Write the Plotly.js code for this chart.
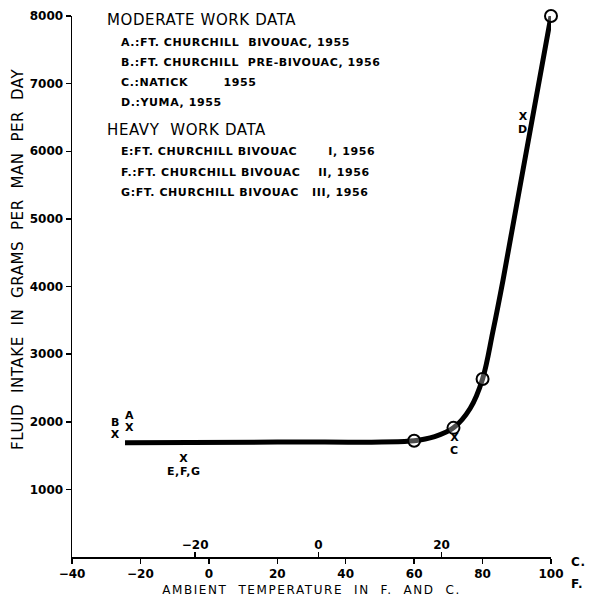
<!DOCTYPE html>
<html>
<head>
<meta charset="utf-8">
<script src="https://cdn.plot.ly/plotly-3.0.1.min.js"></script>
<style>
html,body{margin:0;padding:0;background:#fff;}
#chart{width:590px;height:601px;}
.xtitle{letter-spacing:1.6px;}
.annotation-text{letter-spacing:0.6px;}
</style>
</head>
<body>
<div id="chart"></div>
<script>
// Smooth curve
var curveF = [-24.5, 20, 60, 66, 71.5, 76.4, 80, 83, 86, 91.3, 100];
var curveY = [1690, 1700, 1720, 1780, 1910, 2200, 2633, 3330, 4100, 5580, 8000];
// Open circles on the curve
var circleF = [60, 71.5, 80, 100];
var circleY = [1720, 1910, 2633, 8000];
// X data marks
var markLabels = ['A', 'B', 'C', 'D', 'E,F,G'];
var markF = [-23.3, -27.4, 71.8, 91.8, -7.4];
var markY = [1900, 1800, 1760, 6510, 1450];
var labelAbove = [true, true, false, false, false];
// Axis ticks
var fTicks = [-40, -20, 0, 20, 40, 60, 80, 100];
var cTicks = [-20, 0, 20];
var yTicks = [0, 1000, 2000, 3000, 4000, 5000, 6000, 7000, 8000];
// Text
var yTitle = 'FLUID  INTAKE  IN  GRAMS  PER  MAN  PER  DAY';
var xTitle = 'AMBIENT  TEMPERATURE  IN  F.  AND  C.';
var moderateTitle = 'MODERATE WORK DATA';
var moderateItems = ['A.:FT. CHURCHILL  BIVOUAC, 1955', 'B.:FT. CHURCHILL  PRE-BIVOUAC, 1956', 'C.:NATICK\u00a0\u00a0\u00a0\u00a0\u00a0\u00a0\u00a0\u00a01955', 'D.:YUMA, 1955'];
var heavyTitle = 'HEAVY  WORK DATA';
var heavyItems = ['E:FT. CHURCHILL BIVOUAC\u00a0\u00a0\u00a0\u00a0\u00a0\u00a0\u00a0I, 1956', 'F.:FT. CHURCHILL BIVOUAC\u00a0\u00a0\u00a0\u00a0II, 1956', 'G:FT. CHURCHILL BIVOUAC\u00a0\u00a0\u00a0III, 1956'];

var FONT = 'DejaVu Sans';
var black = '#000';

var traces = [
  {x: curveF, y: curveY, mode: 'lines', line: {color: black, width: 5, shape: 'spline', smoothing: 1}, cliponaxis: false, hoverinfo: 'skip'},
  {x: circleF, y: circleY, mode: 'markers', marker: {symbol: 'circle', size: 12, color: 'rgba(255,255,255,0.3)', line: {color: black, width: 2}}, cliponaxis: false},
  {x: markF, y: markY, mode: 'text', text: markF.map(function(){return 'X';}), textfont: {family: FONT, size: 11, color: black, weight: 'bold'}, cliponaxis: false},
  // Celsius axis carrier (invisible)
  {x: [-40, 37.78], y: [0, 0], xaxis: 'x2', mode: 'markers', marker: {opacity: 0}, hoverinfo: 'skip'}
];

var L = 72, R = 551, T = 16, B = 557;
function px(p){ return (p - L) / (R - L); }
function py(p){ return (B - p) / (B - T); }

var annotations = [];
markLabels.forEach(function(t, i){
  annotations.push({text: t, x: markF[i], y: markY[i], xref: 'x', yref: 'y', showarrow: false,
    yshift: labelAbove[i] ? 13 : -13, xanchor: 'center', yanchor: 'middle',
    font: {family: FONT, size: 11, color: black, weight: 'bold'}});
});
function leg(t, xp, yp, size, bold){
  annotations.push({text: t, x: px(xp), y: py(yp), xref: 'paper', yref: 'paper', xanchor: 'left', yanchor: 'middle', showarrow: false,
    font: {family: FONT, size: size, color: black, weight: bold ? 'bold' : 'normal'}});
}
leg(moderateTitle, 105, 20, 15, false);
var itemYs = [43, 63, 82, 102];
moderateItems.forEach(function(t, i){ leg(t, 119, itemYs[i], 11, true); });
leg(heavyTitle, 105, 130, 15, false);
var heavyYs = [152, 172, 192];
heavyItems.forEach(function(t, i){ leg(t, 119, heavyYs[i], 11, true); });
leg('C.', 569, 562, 12, true);
leg('F.', 569, 584, 12, true);
annotations.push({text: yTitle, x: px(18), y: py(260), xref: 'paper', yref: 'paper', xanchor: 'center', yanchor: 'middle', textangle: -90, showarrow: false,
  font: {family: FONT, size: 15, color: black}});

var layout = {
  width: 590, height: 601,
  margin: {l: L, r: 590 - R, t: T, b: 601 - B},
  paper_bgcolor: '#fff', plot_bgcolor: '#fff',
  showlegend: false,
  font: {family: FONT, color: black},
  xaxis: {
    range: [-40, 100], tickvals: fTicks, ticks: 'outside', ticklen: 5, tickwidth: 1.5, tickcolor: black,
    showline: true, linecolor: black, linewidth: 1.5, showgrid: false, zeroline: false,
    tickfont: {family: FONT, size: 12, color: black, weight: 'bold'},
    title: {text: xTitle, font: {family: FONT, size: 12, color: black}, standoff: 5}
  },
  xaxis2: {
    overlaying: 'x', anchor: 'y', side: 'bottom', range: [-40, 37.78], tickvals: cTicks,
    ticks: 'inside', ticklen: 5, tickwidth: 1.5, tickcolor: black, ticklabelposition: 'inside',
    showline: false, showgrid: false, zeroline: false,
    tickfont: {family: FONT, size: 12, color: black, weight: 'bold'}
  },
  yaxis: {
    range: [0, 8000], tickvals: yTicks, ticks: 'outside', ticklen: 5, tickwidth: 1.5, tickcolor: black,
    showline: true, linecolor: black, linewidth: 1.5, showgrid: false, zeroline: false,
    tickfont: {family: FONT, size: 12, color: black, weight: 'bold'}
  },
  annotations: annotations
};

Plotly.newPlot('chart', traces, layout, {staticPlot: true});
</script>
</body>
</html>
